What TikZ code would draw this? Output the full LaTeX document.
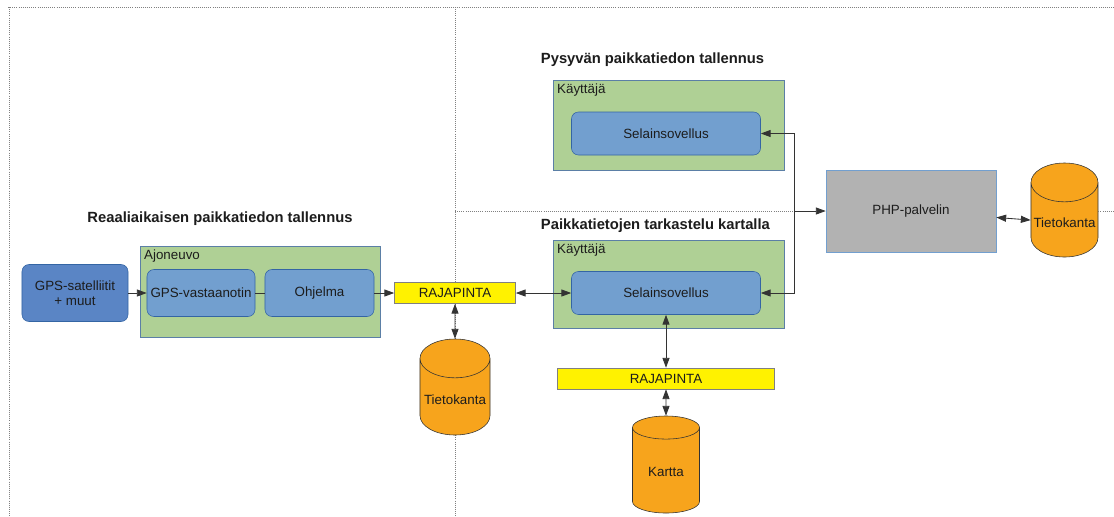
\documentclass[tikz,border=0pt]{standalone}
\usepackage{fontspec}
\setmainfont{Liberation Sans}
\usepackage{tikz}
\usetikzlibrary{arrows.meta,positioning,shapes.geometric}

\definecolor{grpgreen}{RGB}{175,208,149}
\definecolor{appblue}{RGB}{114,159,207}
\definecolor{gpsblue}{RGB}{90,133,197}
\definecolor{edgeblue}{RGB}{52,101,164}
\definecolor{dborange}{RGB}{247,164,28}
\definecolor{srvgray}{RGB}{178,178,178}
\definecolor{ink}{RGB}{28,28,28}

\begin{document}
\begin{tikzpicture}[
  x=0.025cm, y=-0.025cm,
  font=\fontsize{9.5}{11}\selectfont, text=ink,
  box/.style={draw, inner sep=1pt, align=center},
  grp/.style={box, draw=appblue!80!black, fill=grpgreen},
  app/.style={box, rounded corners=5pt, draw=edgeblue, fill=appblue},
  api/.style={box, draw=gray, fill=yellow},
  srv/.style={box, draw=appblue, fill=srvgray},
  db/.style={cylinder, shape border rotate=90, aspect=0.6, anchor=shape center, draw=black!80, fill=dborange, inner sep=1pt},
  ttl/.style={font=\fontsize{10.5}{12}\selectfont\bfseries},
  arr/.style={-{Triangle[length=7pt,width=5pt]}, line width=0.6pt, draw=black!80},
  dbl/.style={{Triangle[length=7pt,width=5pt]}-{Triangle[length=7pt,width=5pt]}, line width=0.6pt, draw=black!80},
  frame/.style={gray, densely dotted, line width=0.5pt}
]
\useasboundingbox (0,0) rectangle (1114,516);

% area borders
\draw[frame] (8,7) -- (1114,7);
\draw[frame] (9,7) -- (9,516);
\draw[frame] (455,7) -- (455,516);

% titles
\node[ttl] (t1) at (220,219) {Reaaliaikaisen paikkatiedon tallennus};
\node[ttl, anchor=west] (t2) at (536,60) {Pysyvän paikkatiedon tallennus};
\node[ttl, anchor=west] (t3) at (536,226) {Paikkatietojen tarkastelu kartalla};

% vehicle side
\node[grp, minimum width=6.0cm, minimum height=2.275cm,
  label={[anchor=north west, inner sep=3pt]north west:Ajoneuvo}] (ajo) at (260,291.5) {};
\node[app, fill=gpsblue, minimum width=2.65cm, minimum height=1.425cm] (gps) at (75,293) {GPS-satelliitit\\+ muut};
\node[app, minimum width=2.7cm, minimum height=1.175cm] (rcv) at (201,293) {GPS-vastaanotin};
\node[app, minimum width=2.725cm, minimum height=1.175cm] (prg) at (319.5,293) {Ohjelma};
\node[api, minimum width=3.025cm, minimum height=0.525cm] (api1) at (455,293) {RAJAPINTA};
\node[db, minimum width=1.75cm, minimum height=2.4cm] (db1) at (455,387) {Tietokanta};

% user side
\node[grp, minimum width=5.775cm, minimum height=2.25cm,
  label={[anchor=north west, inner sep=3pt]north west:Käyttäjä}] (usr1) at (668.5,125) {};
\node[app, minimum width=4.725cm, minimum height=1.075cm] (sel1) at (666,133.5) {Selainsovellus};
\node[grp, minimum width=5.775cm, minimum height=2.2cm,
  label={[anchor=north west, inner sep=3pt]north west:Käyttäjä}] (usr2) at (668.5,284) {};
\node[app, minimum width=4.725cm, minimum height=1.075cm] (sel2) at (666,293) {Selainsovellus};
\node[api, minimum width=5.425cm, minimum height=0.525cm] (api2) at (666,378.5) {RAJAPINTA};
\node[db, minimum width=1.675cm, minimum height=2.425cm] (map) at (666,464.5) {Kartta};

% server
\node[srv, minimum width=4.25cm, minimum height=2.05cm] (php) at (911,211) {PHP-palvelin};
\node[db, minimum width=1.675cm, minimum height=2.35cm] (db2) at (1064.5,210) {Tietokanta};
\coordinate (jn) at (794,211);

\draw[frame] (455,211) -- (jn);
\draw[frame] (db2.east |- jn) -- (1114,211);

\draw[arr] (gps) -- (rcv);
\draw[line width=0.6pt, draw=black!80] (rcv) -- (prg);
\draw[arr] (prg) -- (api1);
\draw[dbl] (api1) -- (sel2);
\draw[dbl] (api1) -- (db1);
\draw[dbl] (sel2) -- (api2);
\draw[dbl] (api2) -- (map);
\draw[arr] (jn) -- (php);
\draw[arr] (jn) |- (sel1.east);
\draw[arr] (jn) |- (sel2.east);
\draw[dbl] (php) -- (db2);
\end{tikzpicture}
\end{document}
